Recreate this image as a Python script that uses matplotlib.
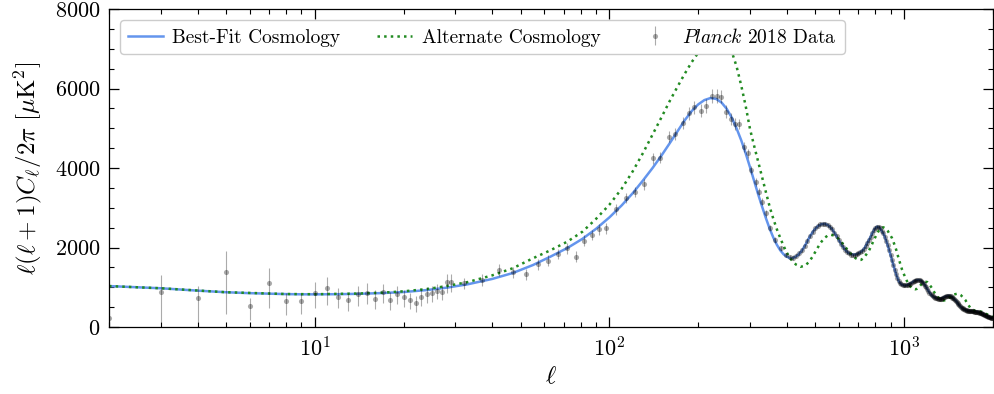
import matplotlib
matplotlib.use("Agg")
import matplotlib.pyplot as plt
from matplotlib.ticker import MultipleLocator
import numpy as np

plt.rcParams.update({
    "font.family": "serif",
    "font.serif": ["cmr10"],
    "mathtext.fontset": "cm",
    "axes.formatter.use_mathtext": True,
    "axes.linewidth": 0.9,
})

# best-fit LCDM spectrum, D_ell = ell(ell+1)C_ell/2pi in muK^2
ell_fit = [2, 2.5, 3, 4, 5, 6, 7, 8, 9, 10, 12, 14, 17, 20, 24, 28, 33, 40, 47, 55,
           63, 72, 81, 90, 100, 110, 120, 130, 140, 150, 160, 170, 180, 190, 200,
           210, 220, 230, 240, 250, 260, 270, 280, 290, 300, 310, 320, 330, 340,
           350, 360, 370, 380, 390, 400, 410, 420, 435, 450, 465, 480, 495, 510,
           525, 540, 555, 570, 585, 600, 615, 630, 645, 660, 675, 690, 705, 720,
           735, 750, 765, 780, 795, 810, 825, 840, 855, 870, 885, 900, 915, 930,
           945, 960, 975, 990, 1005, 1020, 1040, 1060, 1080, 1100, 1120, 1140,
           1160, 1180, 1200, 1220, 1240, 1260, 1280, 1300, 1320, 1340, 1360, 1380,
           1400, 1420, 1440, 1460, 1480, 1500, 1530, 1560, 1590, 1620, 1650, 1680,
           1710, 1740, 1770, 1800, 1840, 1880, 1920, 1960, 2000]
dl_fit = [1030, 1000, 975, 915, 875, 852, 838, 828, 823, 822, 826, 835, 855, 880,
          930, 990, 1075, 1210, 1360, 1560, 1770, 1990, 2220, 2470, 2760, 3060,
          3370, 3690, 4000, 4310, 4620, 4920, 5200, 5430, 5600, 5710, 5760, 5740,
          5650, 5490, 5270, 5000, 4700, 4370, 4020, 3670, 3330, 3020, 2730, 2470,
          2250, 2070, 1930, 1830, 1770, 1730, 1735, 1800, 1920, 2100, 2290, 2440,
          2540, 2590, 2595, 2550, 2460, 2330, 2190, 2060, 1950, 1870, 1835, 1820,
          1830, 1865, 1910, 1990, 2110, 2230, 2360, 2470, 2525, 2505, 2420, 2320,
          2170, 2000, 1810, 1620, 1440, 1280, 1150, 1085, 1055, 1045, 1050, 1075,
          1110, 1150, 1175, 1185, 1170, 1120, 1040, 950, 865, 800, 755, 740, 715,
          705, 715, 740, 765, 780, 785, 770, 740, 700, 665, 570, 500, 455, 425,
          410, 400, 395, 390, 382, 365, 335, 300, 265, 240, 220]

# alternate cosmology
ell_alt = [2, 3, 5, 8, 10, 14, 17, 20, 24, 28, 33, 40, 47, 55, 63, 72, 81, 90, 100,
           110, 120, 130, 140, 150, 160, 170, 180, 190, 200, 210, 220, 230, 240,
           250, 260, 270, 280, 290, 300, 310, 320, 330, 340, 350, 360, 370, 380,
           390, 400, 410, 420, 430, 445, 460, 475, 490, 505, 520, 535, 550, 565,
           580, 595, 610, 625, 640, 655, 670, 685, 700, 715, 730, 745, 760, 775,
           790, 805, 820, 835, 850, 865, 880, 895, 910, 925, 940, 955, 970, 985,
           1000, 1015, 1030, 1045, 1060, 1075, 1090, 1105, 1120, 1140, 1160, 1180,
           1200, 1220, 1245, 1270, 1300, 1330, 1360, 1390, 1420, 1450, 1480, 1510,
           1535, 1560, 1590, 1615, 1650, 1680, 1700, 1740, 1790, 1840, 1900, 1950,
           2000]
dl_alt = [1030, 975, 875, 830, 825, 842, 865, 898, 955, 1030, 1130, 1300, 1480,
          1730, 1930, 2150, 2400, 2720, 3080, 3480, 3920, 4380, 4840, 5270, 5680,
          6040, 6370, 6660, 6900, 7080, 7200, 7250, 7230, 7150, 6930, 6560, 6080,
          5560, 4980, 4550, 4150, 3760, 3380, 3020, 2720, 2460, 2240, 2040, 1870,
          1740, 1640, 1570, 1515, 1540, 1630, 1780, 1950, 2110, 2230, 2300, 2320,
          2300, 2240, 2160, 2060, 1960, 1870, 1790, 1730, 1690, 1690, 1740, 1830,
          1920, 2050, 2190, 2310, 2420, 2490, 2510, 2480, 2420, 2330, 2240, 2100,
          1950, 1770, 1600, 1440, 1320, 1210, 1110, 1040, 990, 960, 948, 960, 995,
          1060, 1115, 1140, 1130, 1070, 973, 860, 760, 695, 665, 680, 730, 785, 820,
          835, 830, 800, 735, 679, 560, 480, 445, 410, 398, 380, 330, 290, 255]

# Planck 2018 TT, low-ell (unbinned, asymmetric errors)
ell_low = [2, 3, 4, 5, 6, 7, 8, 9, 10, 11, 12, 13, 14, 15, 16, 17, 18, 19, 20, 21,
           22, 23, 24, 25, 26, 27, 28, 29]
dl_low = [225, 890, 722, 1392, 537, 1115, 654, 646, 864, 990, 763, 687, 822, 864,
          704, 888, 679, 830, 755, 679, 596, 763, 822, 847, 913, 888, 1140, 1140]
err_low_minus = [200, 760, 590, 1065, 361, 645, 352, 326, 394, 437, 293, 277, 294,
                 286, 243, 292, 250, 245, 240, 235, 230, 228, 225, 222, 220, 218,
                 277, 270]
err_low_plus = [500, 418, 309, 528, 185, 361, 193, 184, 260, 260, 210, 160, 209,
                234, 227, 194, 190, 190, 188, 186, 184, 182, 180, 178, 176, 175,
                193, 193]

# Planck 2018 TT, binned
ell_mid = [32, 37, 42, 47, 52, 57, 62, 67, 72, 77, 82, 87, 92, 97, 105, 114, 122,
           131, 140, 149, 159, 167, 177, 186, 194, 204, 212, 222, 231, 240, 248,
           258, 267, 275, 286, 295, 303, 314, 322, 330, 339, 352, 366, 381, 398]
dl_mid = [1098, 1182, 1434, 1376, 1333, 1585, 1668, 1836, 1980, 1769, 2171, 2314,
          2458, 2483, 2961, 3238, 3404, 3590, 4244, 4259, 4787, 4855, 5125, 5376,
          5527, 5442, 5560, 5811, 5811, 5794, 5417, 5225, 5107, 5107, 4536, 4370,
          3950, 3655, 3404, 3150, 2860, 2483, 2189, 1980, 1811]
err_mid = [140, 140, 140, 140, 138, 138, 138, 136, 136, 135, 135, 134, 134, 133,
           130, 130, 130, 132, 134, 135, 140, 145, 150, 155, 160, 165, 168, 170,
           168, 165, 160, 150, 140, 130, 120, 110, 100, 95, 90, 85, 80, 75, 70,
           65, 60]

ell_high = [410, 420, 430, 440, 450, 460, 470, 480, 490, 500,
            510, 520, 530, 540, 550, 560, 570, 580, 590, 600,
            610, 620, 630, 640, 650, 660, 670, 680, 690, 700,
            710, 720, 730, 740, 750, 760, 770, 780, 790, 800,
            810, 820, 830, 840, 850, 860, 870, 880, 890, 900,
            910, 920, 930, 940, 950, 960, 970, 980, 990, 1000,
            1010, 1020, 1030, 1040, 1050, 1060, 1070, 1080, 1090, 1100,
            1110, 1120, 1130, 1140, 1150, 1160, 1170, 1180, 1190, 1200,
            1210, 1220, 1230, 1240, 1250, 1260, 1270, 1280, 1290, 1300,
            1310, 1320, 1330, 1340, 1350, 1360, 1370, 1380, 1390, 1400,
            1410, 1420, 1430, 1440, 1450, 1460, 1470, 1480, 1490, 1500,
            1510, 1520, 1530, 1540, 1550, 1560, 1570, 1580, 1590, 1600,
            1610, 1620, 1630, 1640, 1650, 1660, 1670, 1680, 1690, 1700,
            1710, 1720, 1730, 1740, 1750, 1760, 1770, 1780, 1790, 1800,
            1810, 1820, 1830, 1840, 1850, 1860, 1870, 1880, 1890, 1900,
            1910, 1920, 1930, 1940, 1950, 1960, 1970, 1980, 1990, 2000]
dl_high = [1750, 1740, 1790, 1850, 1930, 2040, 2170, 2290, 2400, 2480,
           2550, 2590, 2600, 2590, 2570, 2520, 2460, 2370, 2280, 2190,
           2100, 2020, 1950, 1890, 1850, 1820, 1800, 1800, 1830, 1850,
           1880, 1910, 1960, 2030, 2110, 2190, 2270, 2360, 2440, 2500,
           2525, 2520, 2480, 2420, 2360, 2270, 2170, 2060, 1940, 1810,
           1680, 1560, 1440, 1330, 1230, 1150, 1100, 1070, 1055, 1048,
           1045, 1050, 1060, 1075, 1090, 1110, 1130, 1150, 1165, 1175,
           1182, 1185, 1180, 1165, 1145, 1115, 1080, 1040, 995, 950,
           905, 865, 830, 800, 775, 755, 740, 728, 718, 712,
           708, 706, 708, 715, 728, 742, 755, 767, 776, 782,
           785, 784, 778, 768, 754, 738, 718, 696, 672, 648,
           622, 596, 572, 548, 526, 506, 488, 472, 458, 446,
           436, 428, 420, 414, 410, 406, 403, 400, 398, 396,
           394, 392, 390, 388, 386, 383, 380, 376, 370, 364,
           358, 350, 342, 334, 326, 318, 310, 300, 292, 283,
           275, 267, 260, 253, 246, 240, 234, 228, 223, 218]
err_high = [60, 60, 60, 60, 58, 58, 58, 56, 56, 56,
            55, 55, 54, 54, 53, 53, 52, 52, 51, 50,
            48, 48, 47, 47, 46, 46, 45, 45, 45, 45,
            44, 44, 44, 43, 43, 43, 42, 42, 42, 41,
            41, 41, 40, 40, 40, 39, 39, 39, 38, 38,
            38, 37, 37, 37, 36, 36, 36, 35, 35, 35,
            35, 35, 34, 34, 34, 34, 33, 33, 33, 33,
            33, 32, 32, 32, 32, 32, 31, 31, 31, 31,
            31, 30, 30, 30, 30, 30, 30, 30, 30, 30,
            30, 30, 30, 30, 30, 30, 30, 30, 30, 30,
            30, 30, 30, 30, 30, 30, 30, 30, 30, 30,
            30, 30, 30, 30, 30, 30, 30, 30, 30, 30,
            30, 30, 30, 30, 30, 30, 30, 30, 30, 30,
            30, 30, 30, 30, 30, 30, 30, 30, 30, 30,
            30, 30, 30, 30, 30, 30, 30, 30, 30, 30,
            30, 30, 30, 30, 30, 30, 30, 30, 30, 30]

ell_data = np.array(ell_low + ell_mid + ell_high)
dl_data = np.array(dl_low + dl_mid + dl_high)
yerr = np.array([err_low_minus + err_mid + err_high,
                 err_low_plus + err_mid + err_high])

fig = plt.figure(figsize=(9.94, 3.94), dpi=100)
ax = fig.add_axes([0.1097, 0.170, 0.889, 0.807])

ax.plot(ell_fit, dl_fit, "-", color="cornflowerblue", lw=1.8, label="Best-Fit Cosmology")
ax.plot(ell_alt, dl_alt, ":", color="forestgreen", lw=1.8, label="Alternate Cosmology")
ax.errorbar(ell_data, dl_data, yerr=yerr, fmt="o", color="k", alpha=0.33, ms=3.7,
            mew=0, elinewidth=0.8, capsize=1.2, capthick=0.8,
            label=r"$\mathit{Planck}$ 2018 Data")

ax.set_xscale("log")
ax.set_xlim(2, 2000)
ax.set_ylim(0, 8000)
ax.yaxis.set_major_locator(MultipleLocator(2000))
ax.yaxis.set_minor_locator(MultipleLocator(500))
ax.tick_params(which="both", direction="in", top=True, right=True, labelsize=16)
ax.tick_params(which="major", length=7.5, width=0.9)
ax.tick_params(which="minor", length=3.7, width=0.8)
ax.tick_params(axis="y", pad=6)
ax.tick_params(axis="x", pad=7)

ax.set_xlabel(r"$\ell$", fontsize=18, labelpad=4)
ax.set_ylabel(r"$\ell(\ell+1)C_\ell/2\pi\ [\mu\mathrm{K}^2]$", fontsize=18, labelpad=8)

ax.legend(loc="upper left", ncol=3, fontsize=14, framealpha=1.0, edgecolor="0.8",
          handlelength=1.8, handletextpad=0.5, columnspacing=1.9, borderaxespad=0.55)

fig.savefig("out.png", dpi=100)
